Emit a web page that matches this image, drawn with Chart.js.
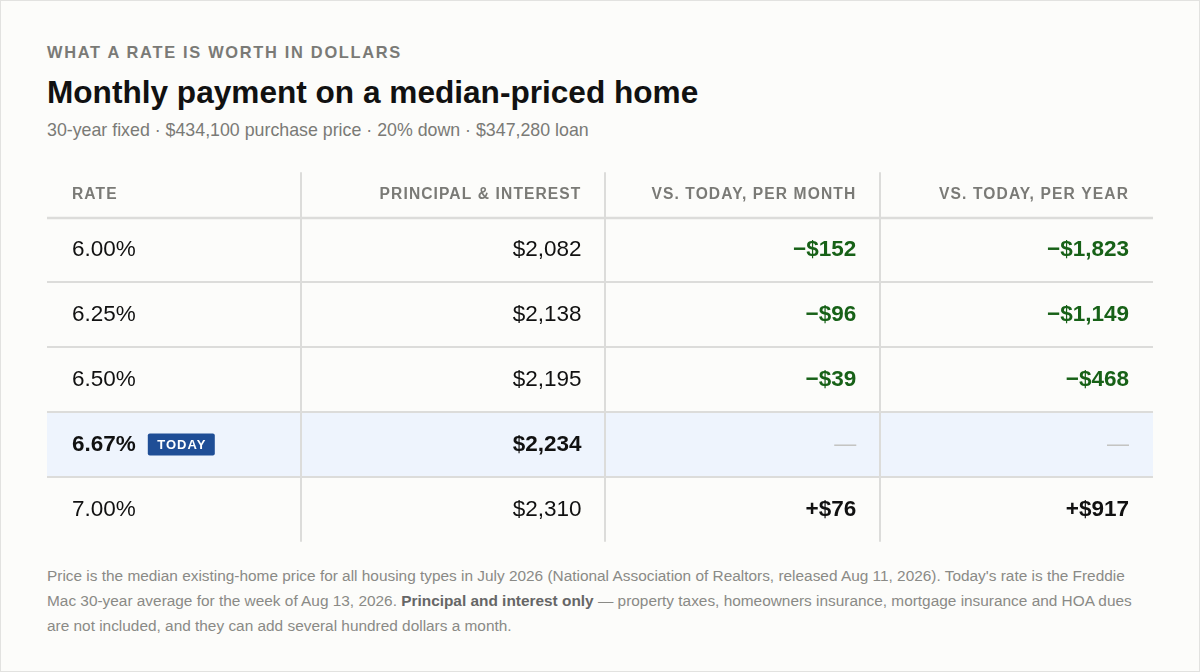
<!DOCTYPE html>
<html>
<head>
<meta charset="utf-8">
<script src="https://cdn.jsdelivr.net/npm/chart.js@4"></script>
<style>
  html, body { margin: 0; padding: 0; }
  body { width: 1200px; height: 672px; background: #fcfcfa; font-family: "Liberation Sans", Arial, sans-serif; position: relative; overflow: hidden; box-sizing: border-box; border: 1px solid #e2e2e0; }
  .kicker { position: absolute; left: 46px; top: 42px; font-size: 16.4px; font-weight: bold; letter-spacing: 1.7px; color: #7a7a76; }
  h1 { position: absolute; left: 46px; top: 73px; margin: 0; font-size: 31.6px; font-weight: bold; color: #111; }
  .sub { position: absolute; left: 46px; top: 119px; font-size: 17.8px; color: #7a7a76; }
  #wrap { position: absolute; left: 46px; top: 170px; width: 1106px; height: 372px; }
  .note { position: absolute; left: 46px; top: 562px; width: 1110px; font-size: 15.4px; line-height: 25px; color: #8a8a86; }
  .note b { color: #666; }
</style>
</head>
<body>
<div class="kicker">WHAT A RATE IS WORTH IN DOLLARS</div>
<h1>Monthly payment on a median-priced home</h1>
<div class="sub">30-year fixed · $434,100 purchase price · 20% down · $347,280 loan</div>
<div id="wrap"><canvas id="table" width="1106" height="372"></canvas></div>
<div class="note">Price is the median existing-home price for all housing types in July 2026 (National Association of Realtors, released Aug 11, 2026). Today's rate is the Freddie Mac 30-year average for the week of Aug 13, 2026. <b>Principal and interest only</b> — property taxes, homeowners insurance, mortgage insurance and HOA dues are not included, and they can add several hundred dollars a month.</div>
<script>
// ----- Data -----
const headers = ["RATE", "PRINCIPAL & INTEREST", "VS. TODAY, PER MONTH", "VS. TODAY, PER YEAR"];
const rates = [6.00, 6.25, 6.50, 6.67, 7.00];
const payments = [2082, 2138, 2195, 2234, 2310];
const diffMonth = [-152, -96, -39, 0, 76];
const diffYear = [-1823, -1149, -468, 0, 917];
const todayIndex = 3;

// ----- Layout (px within canvas) -----
const colEdges = [0, 254, 559, 834, 1107];
const HEADER_UNITS = 0.7;
const FONT = "'Liberation Sans', Arial, sans-serif";

function money(v) { return "$" + Math.abs(v).toLocaleString("en-US"); }
function signed(v) { return (v < 0 ? "\u2212" : "+") + money(v); }

const tablePlugin = {
  id: "tableCells",
  afterDraw(chart) {
    const ctx = chart.ctx;
    const x = chart.scales.x, y = chart.scales.y;
    const left = x.getPixelForValue(colEdges[0]);
    const right = x.getPixelForValue(colEdges[colEdges.length - 1]);
    const top = y.getPixelForValue(0);
    const bottom = y.getPixelForValue(HEADER_UNITS + rates.length);
    ctx.save();

    // today highlight
    const t0 = y.getPixelForValue(HEADER_UNITS + todayIndex);
    const t1 = y.getPixelForValue(HEADER_UNITS + todayIndex + 1);
    ctx.fillStyle = "#eef4fd";
    ctx.fillRect(left, t0, right - left, t1 - t0);

    // lines
    ctx.strokeStyle = "#dcdcda";
    ctx.lineWidth = 2;
    for (let i = 1; i < colEdges.length - 1; i++) {
      const px = Math.round(x.getPixelForValue(colEdges[i]));
      ctx.beginPath(); ctx.moveTo(px, top); ctx.lineTo(px, bottom); ctx.stroke();
    }
    for (let r = 0; r < rates.length; r++) {
      const py = Math.round(y.getPixelForValue(HEADER_UNITS + r));
      ctx.lineWidth = r === 0 ? 2.5 : 2;
      ctx.beginPath(); ctx.moveTo(left, py); ctx.lineTo(right, py); ctx.stroke();
    }

    // header
    ctx.textBaseline = "middle";
    ctx.font = "bold 15.6px " + FONT;
    ctx.fillStyle = "#7a7a76";
    ctx.letterSpacing = "1.1px";
    const hy = y.getPixelForValue(HEADER_UNITS / 2);
    headers.forEach((h, i) => {
      if (i === 0) { ctx.textAlign = "left"; ctx.fillText(h, x.getPixelForValue(colEdges[0]) + 25, hy); }
      else { ctx.textAlign = "right"; ctx.fillText(h, x.getPixelForValue(colEdges[i + 1]) - 24, hy); }
    });
    ctx.letterSpacing = "0px";

    // rows
    rates.forEach((rate, r) => {
      const cy = y.getPixelForValue(HEADER_UNITS + r + 0.5);
      const isToday = r === todayIndex;
      const w = isToday ? "bold " : "";
      ctx.font = w + "22.5px " + FONT;
      ctx.fillStyle = "#111";
      ctx.textAlign = "left";
      const rx = x.getPixelForValue(colEdges[0]) + 25;
      const rateText = rate.toFixed(2) + "%";
      ctx.fillText(rateText, rx, cy);
      if (isToday) {
        const bx = rx + ctx.measureText(rateText).width + 12;
        ctx.fillStyle = "#1f4e96";
        ctx.beginPath(); ctx.roundRect(bx, cy - 11, 67, 22, 2); ctx.fill();
        ctx.fillStyle = "#fff";
        ctx.font = "bold 13px " + FONT;
        ctx.letterSpacing = "1px";
        ctx.textAlign = "center";
        ctx.fillText("TODAY", bx + 34, cy + 1);
        ctx.letterSpacing = "0px";
      }
      ctx.textAlign = "right";
      ctx.font = w + "22.5px " + FONT;
      ctx.fillStyle = "#111";
      ctx.fillText(money(payments[r]), x.getPixelForValue(colEdges[2]) - 24, cy);
      [diffMonth[r], diffYear[r]].forEach((v, k) => {
        const ex = x.getPixelForValue(colEdges[3 + k]) - 24;
        if (v === 0) {
          ctx.fillStyle = "#c4c4c2";
          ctx.font = "22px " + FONT;
          ctx.fillText("\u2014", ex, cy);
        } else {
          ctx.fillStyle = v < 0 ? "#176117" : "#111";
          ctx.font = "bold 22.5px " + FONT;
          ctx.fillText(signed(v), ex, cy);
        }
      });
    });
    ctx.restore();
  }
};

new Chart(document.getElementById("table"), {
  type: "scatter",
  data: { datasets: [{ data: [], pointRadius: 0 }] },
  options: {
    responsive: false,
    animation: false,
    events: [],
    layout: { padding: 0 },
    plugins: { legend: { display: false }, tooltip: { enabled: false } },
    scales: {
      x: { type: "linear", display: false, min: colEdges[0], max: colEdges[colEdges.length - 1] },
      y: { type: "linear", display: false, reverse: true, min: -0.02, max: HEADER_UNITS + rates.length + 0.02 }
    }
  },
  plugins: [tablePlugin]
});
</script>
</body>
</html>
